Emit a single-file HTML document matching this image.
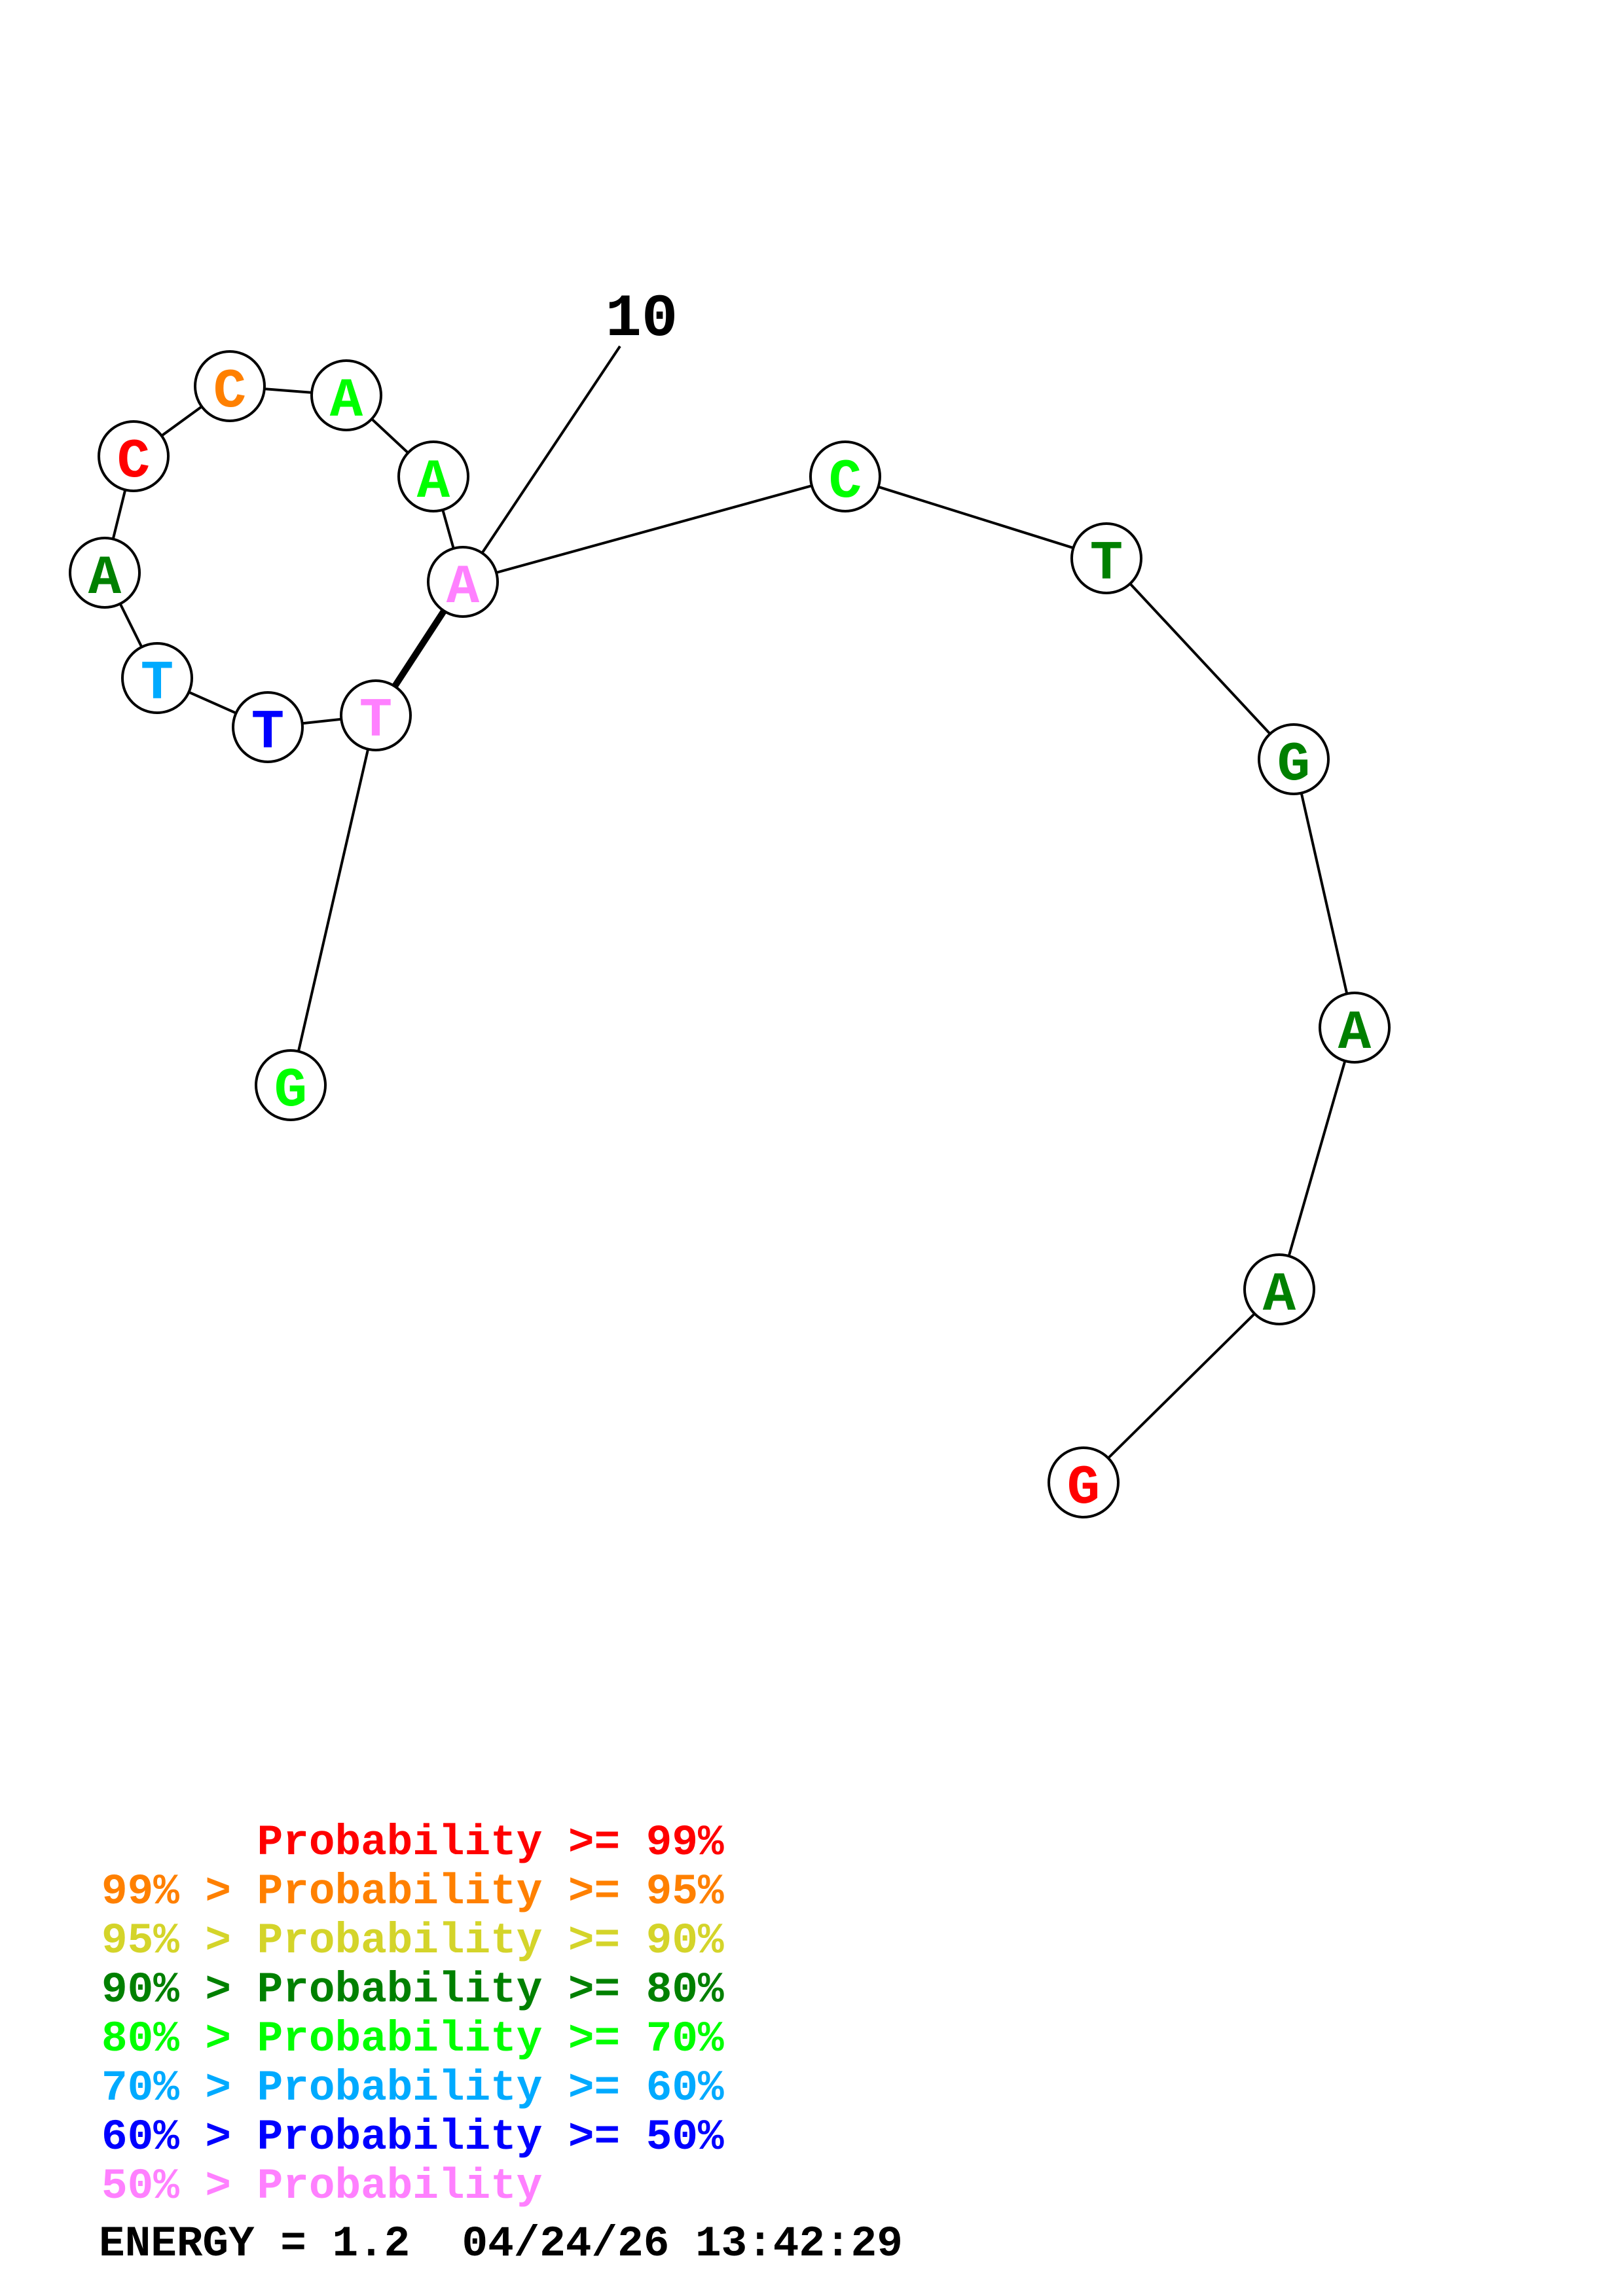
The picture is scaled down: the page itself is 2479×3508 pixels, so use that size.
<!DOCTYPE html>
<html><head><meta charset="utf-8"><style>
html,body{margin:0;padding:0;background:#fff;}
svg{display:block;}
.pre{white-space:pre;}
</style></head><body>
<svg width="2479" height="3508" viewBox="0 0 2479 3508" xmlns="http://www.w3.org/2000/svg">
<rect width="2479" height="3508" fill="#fff"/>
<g stroke="#000" stroke-width="4" fill="none">
<polyline points="444,1658 574,1093 409,1111 240,1036 160,875 204,697 351,590 529,604 662,728 707,889 1291,728 1690,853 1976,1160 2069,1570 1954,1970 1655,2265"/>
<line x1="707" y1="889" x2="947" y2="529"/>
<line x1="574" y1="1093" x2="707" y2="889" stroke-width="10"/>
</g>
<text x="980" y="512" font-family="Liberation Mono, monospace" font-weight="bold" font-size="92" text-anchor="middle" fill="#000">10</text>
<g stroke="#000" stroke-width="4" fill="#fff">
<circle cx="444" cy="1658" r="53"/>
<circle cx="574" cy="1093" r="53"/>
<circle cx="409" cy="1111" r="53"/>
<circle cx="240" cy="1036" r="53"/>
<circle cx="160" cy="875" r="53"/>
<circle cx="204" cy="697" r="53"/>
<circle cx="351" cy="590" r="53"/>
<circle cx="529" cy="604" r="53"/>
<circle cx="662" cy="728" r="53"/>
<circle cx="707" cy="889" r="53"/>
<circle cx="1291" cy="728" r="53"/>
<circle cx="1690" cy="853" r="53"/>
<circle cx="1976" cy="1160" r="53"/>
<circle cx="2069" cy="1570" r="53"/>
<circle cx="1954" cy="1970" r="53"/>
<circle cx="1655" cy="2265" r="53"/>
</g>
<g font-family="Liberation Mono, monospace" font-weight="bold" font-size="84" text-anchor="middle">
<text x="444" y="1689" fill="#00ff00">G</text>
<text x="574" y="1124" fill="#ff80ff">T</text>
<text x="409" y="1142" fill="#0000ff">T</text>
<text x="240" y="1067" fill="#00aaff">T</text>
<text x="160" y="906" fill="#008000">A</text>
<text x="204" y="728" fill="#ff0000">C</text>
<text x="351" y="621" fill="#ff8000">C</text>
<text x="529" y="635" fill="#00ff00">A</text>
<text x="662" y="759" fill="#00ff00">A</text>
<text x="707" y="920" fill="#ff80ff">A</text>
<text x="1291" y="759" fill="#00ff00">C</text>
<text x="1690" y="884" fill="#008000">T</text>
<text x="1976" y="1191" fill="#008000">G</text>
<text x="2069" y="1601" fill="#008000">A</text>
<text x="1954" y="2001" fill="#008000">A</text>
<text x="1655" y="2296" fill="#ff0000">G</text>
</g>
<g font-family="Liberation Mono, monospace" font-weight="bold" font-size="66">
<text class="pre" x="155" y="2833" fill="#ff0000">      Probability &gt;= 99%</text>
<text class="pre" x="155" y="2908" fill="#ff8000">99% &gt; Probability &gt;= 95%</text>
<text class="pre" x="155" y="2983" fill="#d4d42a">95% &gt; Probability &gt;= 90%</text>
<text class="pre" x="155" y="3058" fill="#008000">90% &gt; Probability &gt;= 80%</text>
<text class="pre" x="155" y="3133" fill="#00ff00">80% &gt; Probability &gt;= 70%</text>
<text class="pre" x="155" y="3208" fill="#00aaff">70% &gt; Probability &gt;= 60%</text>
<text class="pre" x="155" y="3283" fill="#0000ff">60% &gt; Probability &gt;= 50%</text>
<text class="pre" x="155" y="3358" fill="#ff80ff">50% &gt; Probability</text>
<text class="pre" x="151" y="3446" fill="#000">ENERGY = 1.2  04/24/26 13:42:29</text>
</g>
</svg>
</body></html>
